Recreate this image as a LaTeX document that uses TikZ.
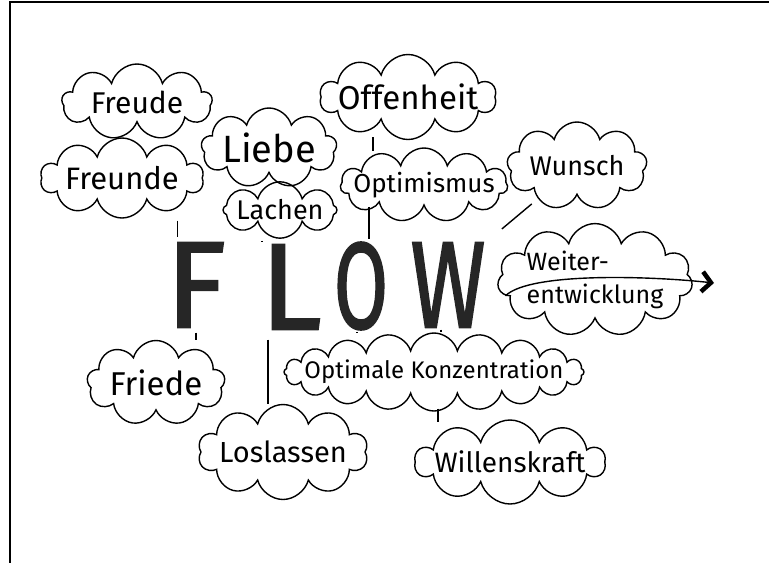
\documentclass[tikz,border=0pt]{standalone}
\usepackage{fontspec}
\setmainfont{Fira Sans}
\newfontfamily\markerfont[FakeBold=1.6]{Fira Sans}
\usetikzlibrary{shapes.symbols,arrows.meta}
\newcommand\handsize[1]{\fontsize{#1}{#1}\selectfont}

\begin{document}
\begin{tikzpicture}[x=1pt, y=-1pt,
  wolke/.style={cloud, cloud puffs=#1, cloud ignores aspect, draw, line width=1.4pt, inner sep=0pt},
  wolke/.default=10,
  buchstabe/.style={inner sep=0pt, text=black!85, font=\markerfont\handsize{123}},
  verb/.style={line width=1.4pt},
  pfeil/.style={line width=1.4pt, -{Straight Barb[length=9pt, width=20pt, line width=4.5pt]}}]
  \useasboundingbox (0,0) rectangle (769,563);
  \draw[line width=2.2pt] (769,2) -- (10,2) -- (10,563);
  % FLOW
  \node (flowF) [buchstabe] at (196,285) {F};
  \node (flowL) [buchstabe] at (291,287) {L};
  \node (flowO) [buchstabe] at (361,286) {\scalebox{0.64}[1]{O}};
  \node (flowW) [buchstabe] at (448,285) {\scalebox{0.74}[1]{W}};
  % Wolken
  \node (freude) [wolke=9, minimum width=150, minimum height=76, font=\handsize{30}] at (137,102) {Freude};
  \node (freunde) [wolke=10, minimum width=163, minimum height=80, font=\handsize{31}] at (122,178) {Freunde};
  \node (liebe) [wolke=9, minimum width=132, minimum height=80, font=\handsize{38}] at (269,148) {Liebe};
  \node (lachen) [wolke=8, minimum width=114, minimum height=44, inner xsep=-8pt, font=\handsize{27}] at (280,210) {Lachen};
  \node (offenheit) [wolke=10, minimum width=170, minimum height=85, inner xsep=-8pt, font=\handsize{33}] at (408,97) {Offenheit};
  \node (optimismus) [wolke=11, minimum width=155, minimum height=74, inner xsep=-12pt, font=\handsize{26}] at (424,185) {Optimismus};
  \node (wunsch) [wolke=9, minimum width=140, minimum height=88, font=\handsize{27}] at (577,166) {Wunsch};
  \node (weiter) [wolke=11, minimum width=195, minimum height=90, inner xsep=-12pt, align=left, font=\fontsize{25}{33}\selectfont] at (595,280) {Weiter-\\entwicklung};
  \node (friede) [wolke=9, minimum width=138, minimum height=85, font=\handsize{33}] at (156,383) {Friede};
  \node (loslassen) [wolke=10, minimum width=170, minimum height=95, inner xsep=-6pt, font=\handsize{29}] at (283,452) {Loslassen};
  \node (optimale) [wolke=20, minimum width=300, minimum height=78, inner xsep=-42pt, font=\handsize{24}] at (434,372) {Optimale Konzentration};
  \node (willenskraft) [wolke=10, minimum width=190, minimum height=84, inner xsep=-10pt, font=\handsize{28}] at (510,462) {Willenskraft};
  \coordinate (tip) at (714,283);
  % Verbindungen
  \draw[verb, shorten <=2pt, shorten >=5pt] ([xshift=12pt]flowF.north west |- freunde.south) -- ([xshift=12pt]flowF.north west);
  \draw[verb, shorten <=2pt, shorten >=2pt] ([xshift=2pt]flowL.north west |- lachen.south) -- ([xshift=2pt]flowL.north west);
  \draw[verb, shorten >=3pt] ([xshift=8pt]flowO.north |- optimismus.south) -- ([xshift=8pt]flowO.north);
  \draw[verb, shorten <=-3pt, shorten >=-4pt] ([xshift=-35pt]offenheit.south) -- ([xshift=-35pt]offenheit.south |- optimismus.north);
  \draw[verb, shorten <=59pt, shorten >=21pt] (wunsch.center) -- (flowW.north east);
  \draw[verb, shorten <=5pt] (flowF.south) -- (flowF.south |- friede.north);
  \draw[verb, shorten <=10pt] ([xshift=8pt]flowL.south west) -- ([xshift=8pt]flowL.south west |- loslassen.north);
  \draw[verb, shorten <=2pt] ([xshift=-4pt]flowO.south) -- ([xshift=-4pt]flowO.south |- optimale.north);
  \draw[verb, shorten <=2pt] ([xshift=-7pt]flowW.south) -- ([xshift=-7pt]flowW.south |- optimale.north);
  \draw[verb, shorten <=-3pt, shorten >=-3pt] ([xshift=4pt]optimale.south) -- ([xshift=4pt]optimale.south |- willenskraft.north);
  \draw[pfeil] (weiter.190) .. controls (530,272) and (650,276) .. (tip);
\end{tikzpicture}
\end{document}
